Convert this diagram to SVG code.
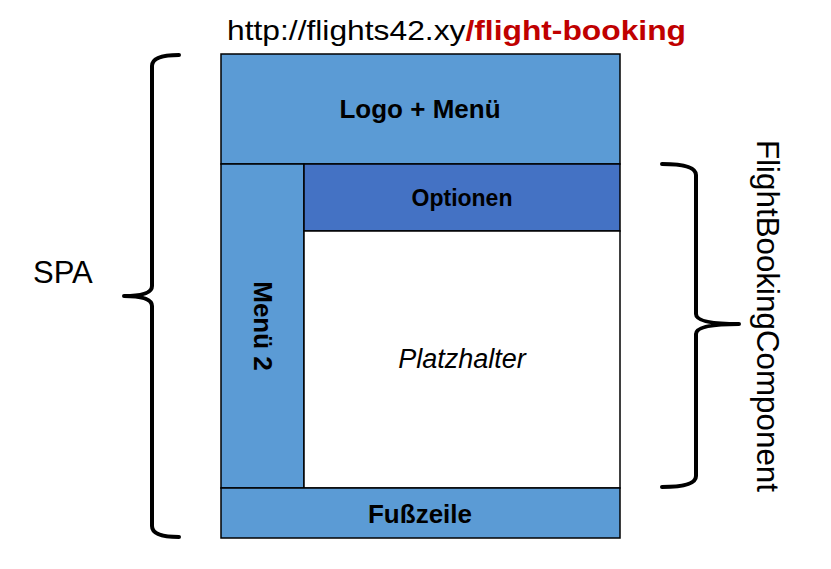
<svg xmlns="http://www.w3.org/2000/svg" width="831" height="569" viewBox="0 0 831 569">
<style>
.box{stroke:#000;stroke-width:1.5}
.lb{fill:#5B9BD5}
.db{fill:#4472C4}
.wh{fill:#fff}
.t{font-family:"Liberation Sans",Arial,sans-serif;fill:#000}
.b{font-weight:bold}
.brace{fill:none;stroke:#000;stroke-width:4;stroke-linecap:round;stroke-linejoin:round}
</style>
<rect width="831" height="569" fill="#fff"/>
<text class="t" x="227" y="40" font-size="28" textLength="459" lengthAdjust="spacingAndGlyphs">http://flights42.xy<tspan class="b" fill="#C00000">/flight-booking</tspan></text>
<g id="header">
<rect class="box lb" x="221" y="54" width="399" height="110"/>
<text class="t b" x="420" y="118" font-size="26" text-anchor="middle">Logo + Menü</text>
</g>
<g id="menu2">
<rect class="box lb" x="221" y="164" width="83" height="324"/>
<text class="t b" font-size="26" text-anchor="middle" transform="translate(263,326) rotate(90)" y="9">Menü 2</text>
</g>
<g id="optionen">
<rect class="box db" x="304" y="164" width="316" height="67"/>
<text class="t b" x="462" y="206" font-size="23" text-anchor="middle">Optionen</text>
</g>
<g id="platzhalter">
<rect class="box wh" x="304" y="231" width="316" height="257"/>
<text class="t" x="462" y="368" font-size="27" font-style="italic" text-anchor="middle">Platzhalter</text>
</g>
<g id="footer">
<rect class="box lb" x="221" y="488" width="399" height="50"/>
<text class="t b" x="420" y="523" font-size="26" text-anchor="middle">Fußzeile</text>
</g>
<g id="connectors">
<path class="brace" d="M179,55 Q152,55 152,66 L152,286 Q152,296 124,296 Q152,296 152,306 L152,526 Q152,537 179,537"/>
<path class="brace" d="M662,164 Q696,164 696,175 L696,314 Q696,324 739,324 Q696,324 696,334 L696,476 Q696,487 662,487"/>
</g>
<g id="spa">
<text class="t" x="33" y="283" font-size="31">SPA</text>
</g>
<g id="fbc">
<text class="t" font-size="31" text-anchor="middle" transform="translate(757,316) rotate(90)" y="0" textLength="352" lengthAdjust="spacingAndGlyphs">FlightBookingComponent</text>
</g>
</svg>
